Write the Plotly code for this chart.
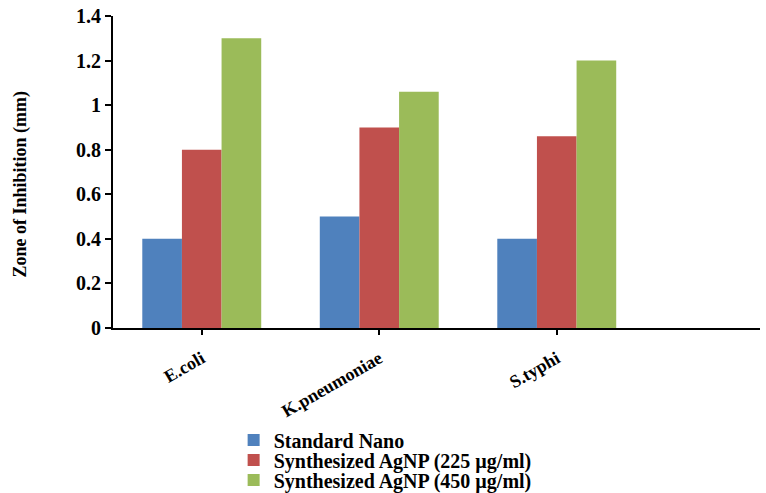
import plotly.graph_objects as go

categories = ["E.coli", "K.pneumoniae", "S.typhi"]
series_names = ["Standard Nano", "Synthesized AgNP (225 µg/ml)", "Synthesized AgNP (450 µg/ml)"]
standard_nano = [0.40, 0.50, 0.40]
agnp_225 = [0.80, 0.90, 0.86]
agnp_450 = [1.30, 1.06, 1.20]
colors = ["#4F81BD", "#C0504D", "#9BBB59"]
y_ticks = [0, 0.2, 0.4, 0.6, 0.8, 1.0, 1.2, 1.4]
y_tick_text = ["0", "0.2", "0.4", "0.6", "0.8", "1", "1.2", "1.4"]
y_title = "Zone of Inhibition (mm)"

FONT = "Liberation Serif, Times New Roman, serif"

legend_ids = ["legend", "legend2", "legend3"]
legend_y_px = [440, 460, 480]

fig = go.Figure()
for name, vals, col, lg in zip(series_names, [standard_nano, agnp_225, agnp_450], colors, legend_ids):
    fig.add_trace(go.Bar(x=categories, y=vals, name=name, legend=lg,
                         marker=dict(color=col, line=dict(width=0))))

legend_common = dict(xref="container", yref="container", x=0.305, xanchor="left", yanchor="middle",
                     font=dict(family=FONT, size=20, weight="bold", color="black"),
                     bgcolor="rgba(0,0,0,0)", itemwidth=30, tracegroupgap=0)

layout_legends = {}
for lg, ypx in zip(legend_ids, legend_y_px):
    layout_legends[lg] = dict(legend_common, y=1 - ypx / 493)

fig.update_layout(
    width=766, height=493,
    margin=dict(l=113, r=6, t=16, b=165, autoexpand=False),
    paper_bgcolor="white", plot_bgcolor="white",
    barmode="group", bargap=0.33, bargroupgap=0,
    font=dict(family=FONT, color="black", size=16, weight="bold"),
    showlegend=True,
    xaxis=dict(range=[-0.5, 3.145], showline=True, linecolor="black", linewidth=2,
               ticks="outside", ticklen=5, tickwidth=2, tickcolor="black",
               tickangle=-30, ticklabelstandoff=6, automargin=False,
               tickfont=dict(family=FONT, size=18, weight="bold"),
               showgrid=False, zeroline=False),
    yaxis=dict(range=[0, 1.4], tickvals=y_ticks, ticktext=y_tick_text,
               showline=True, linecolor="black", linewidth=2, automargin=False,
               ticks="outside", ticklen=6, tickwidth=2, tickcolor="black",
               tickfont=dict(family=FONT, size=20, weight="bold"),
               showgrid=False, zeroline=False),
    annotations=[dict(text=y_title, xref="paper", yref="paper", x=-0.1437, y=0.46,
                      xanchor="center", yanchor="middle", textangle=-90, showarrow=False,
                      font=dict(family=FONT, size=18, weight="bold", color="black"))],
    **layout_legends,
)

fig.write_html("out.html")
